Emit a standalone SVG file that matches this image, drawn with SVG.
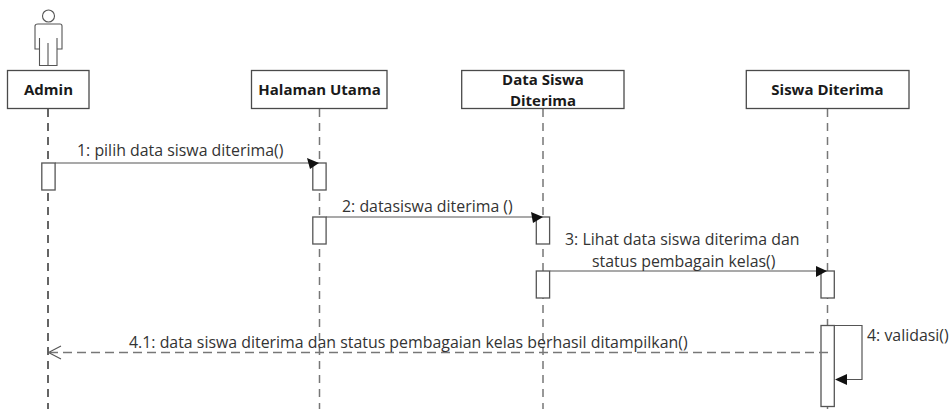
<svg xmlns="http://www.w3.org/2000/svg" width="952" height="409" viewBox="0 0 952 409">
<style>
.box{fill:#fff;stroke:#4a4a4a;stroke-width:1.3}
.act{fill:#fff;stroke:#555;stroke-width:1.3}
.life{fill:none;stroke:#777;stroke-width:1.5;stroke-dasharray:8 6}
.msg{fill:none;stroke:#555;stroke-width:1.2}
.ret{fill:none;stroke:#777;stroke-width:1.5;stroke-dasharray:9 5}
.head{fill:#111;stroke:none}
.open{fill:none;stroke:#555;stroke-width:1.1}
.t{font-family:"Open Sans","Noto Sans",sans-serif;font-size:15.9px;fill:#333}
.n{font-family:"Open Sans","Noto Sans",sans-serif;font-size:15px;font-weight:700;fill:#1a1a1a;text-anchor:middle}
.actor{fill:none;stroke:#555;stroke-width:1.1}
</style>
<rect width="952" height="409" fill="#fff"/>
<g id="connectors">
<path class="life" style="stroke:#333" d="M48 109V409"/>
<path class="life" d="M319.500 109V409"/>
<path class="life" d="M543 109V409"/>
<path class="life" d="M827.500 109V409"/>
</g>
<g id="admin">
<circle class="actor" cx="48.500" cy="16" r="6"/>
<path class="actor" d="M38 24H60Q62 24 62 26V49H57V65.500H39.500V49H35V26Q35 24 38 24ZM39.500 38V49M57 38V49M48 43V65.500"/>
<rect class="box" x="7.500" y="70.500" width="81.500" height="38"/>
<text class="n" x="48.500" y="95">Admin</text>
</g>
<g id="halaman-utama">
<rect class="box" x="251.500" y="70.500" width="135.500" height="38"/>
<text class="n" x="319.500" y="95">Halaman Utama</text>
</g>
<g id="data-siswa-diterima">
<rect class="box" x="461.700" y="70.500" width="162.300" height="38"/>
<text class="n" x="543" y="85">Data Siswa</text>
<text class="n" x="543" y="106">Diterima</text>
</g>
<g id="siswa-diterima">
<rect class="box" x="746.300" y="70.500" width="162.700" height="38"/>
<text class="n" x="827.500" y="95">Siswa Diterima</text>
</g>
<g id="activations">
<rect class="act" x="41.800" y="163" width="13.300" height="27"/>
<rect class="act" x="312.800" y="163" width="13.300" height="27"/>
<rect class="act" x="312.800" y="217" width="13.300" height="27"/>
<rect class="act" x="536.300" y="217" width="13.300" height="27"/>
<rect class="act" x="536.300" y="271" width="13.300" height="27"/>
<rect class="act" x="821" y="271" width="13.300" height="27"/>
<rect class="act" x="821" y="325.500" width="13.300" height="81"/>
</g>
<g id="messages">
<path class="msg" d="M55 163H312"/>
<path class="head" d="M307 158L319 163L310 169Z"/>
<text class="t" x="77" y="156">1: pilih data siswa diterima()</text>
<path class="msg" d="M326 217H536"/>
<path class="head" d="M531 212L543 217L533 223Z"/>
<text class="t" x="342" y="212">2: datasiswa diterima ()</text>
<path class="msg" d="M550 271H821"/>
<path class="head" d="M816 266L827 271L816 277Z"/>
<text class="t" x="565" y="245">3: Lihat data siswa diterima dan</text>
<text class="t" x="592" y="267">status pembagain kelas()</text>
<path class="msg" d="M834 325.500H862V379.500H836"/>
<path class="head" d="M835 379.500L847 374V385Z"/>
<text class="t" x="867" y="341">4: validasi()</text>
<path class="ret" d="M828 352.500H50"/>
<path class="open" d="M48.500 352.500L61 346M48.500 352.500L61 359"/>
<text class="t" x="129" y="348">4.1: data siswa diterima dan status pembagaian kelas berhasil ditampilkan()</text>
</g>
</svg>
